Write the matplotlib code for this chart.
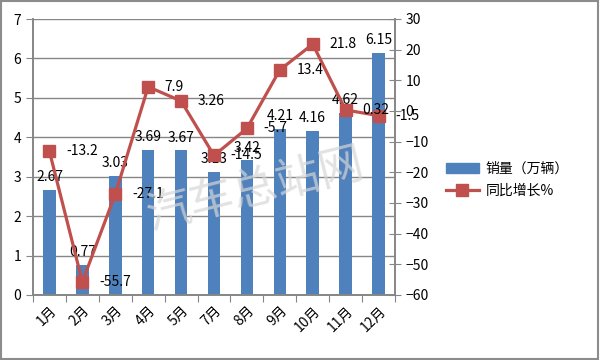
import matplotlib
matplotlib.use("Agg")
import matplotlib.pyplot as plt
from matplotlib.lines import Line2D
from matplotlib.patches import Patch, Rectangle

plt.rcParams['font.family'] = ['Noto Sans CJK SC', 'DejaVu Sans']

months = ['1月', '2月', '3月', '4月', '5月', '7月', '8月', '9月', '10月', '11月', '12月']
sales = [2.67, 0.77, 3.03, 3.69, 3.67, 3.13, 3.42, 4.21, 4.16, 4.62, 6.15]
growth = [-13.2, -55.7, -27.1, 7.9, 3.26, -14.5, -5.7, 13.4, 21.8, 0.32, -1.5]

bar_color = '#4F81BD'
line_color = '#C0504D'
axis_color = '#868686'

fig = plt.figure(figsize=(6, 3.6), dpi=100)
ax = fig.add_axes([33/600, 1-295/360, (395-33)/600, (295-19)/360])
ax2 = ax.twinx()

x = list(range(len(months)))
ax.bar(x, sales, width=0.38, color=bar_color, zorder=2)
ax.set_xlim(-0.5, len(months)-0.5)
ax.set_ylim(0, 7)
ax.set_yticks(range(0, 8))
ax.yaxis.grid(True, color=axis_color, linewidth=1, zorder=0)
ax.set_axisbelow(True)
ax.set_xticks([i - 0.5 for i in range(len(months)+1)], minor=False)
ax.set_xticklabels([])
ax.set_xticks(x, minor=True)
ax.set_xticklabels(months, minor=True, rotation=45, ha='right', va='top',
                   rotation_mode='anchor', fontsize=10)
ax.tick_params(axis='x', which='major', length=5, color=axis_color, direction='out')
ax.tick_params(axis='x', which='minor', length=0, pad=6)
ax.tick_params(axis='y', length=5, color=axis_color, labelsize=10, direction='out')

for s in ['top']:
    ax.spines[s].set_visible(False)
    ax2.spines[s].set_visible(False)
for s in ['left', 'bottom', 'right']:
    ax.spines[s].set_color(axis_color)
    ax2.spines[s].set_color(axis_color)
    ax.spines[s].set_linewidth(1.2)
    ax2.spines[s].set_linewidth(1.2)

for xi, v in zip(x, sales):
    ax.annotate(f'{v:g}', (xi, v), xytext=(0, 4), textcoords='offset points',
                ha='center', va='bottom', fontsize=10, zorder=5)

ax2.plot(x, growth, color=line_color, linewidth=2.3, marker='s', markersize=9,
         markerfacecolor=line_color, markeredgecolor=line_color, zorder=4)
ax2.set_ylim(-60, 30)
ax2.set_yticks(range(-60, 31, 10))
ax2.tick_params(axis='y', length=8, direction='inout', color=axis_color, labelsize=10)

for xi, v in zip(x, growth):
    ax2.annotate(f'{v:g}', (xi, v), xytext=(12, 0), textcoords='offset points',
                 ha='left', va='center', fontsize=10, zorder=6)

ax.set_zorder(ax2.get_zorder() - 1)
ax.patch.set_visible(False)

# watermark
fig.text(255/600, 1-190/360, '汽车总站网', fontsize=32, color='#d6d6d6', rotation=14,
         ha='center', va='center', alpha=0.7, zorder=0, fontweight='light')

handles = [Patch(facecolor=bar_color, edgecolor=bar_color),
           Line2D([0], [0], color=line_color, linewidth=2.3, marker='s', markersize=9)]
fig.legend(handles, ['销量（万辆）', '同比增长%'], loc='center left',
           bbox_to_anchor=(433/600, 1-180/360), frameon=False, fontsize=10,
           handlelength=2.4, handleheight=0.7, labelspacing=0.6, handletextpad=0.5)

fig.patches.append(Rectangle((0.002, 0.003), 0.995, 0.993, transform=fig.transFigure,
                             fill=False, edgecolor='#8c8c8c', linewidth=1.5))

fig.savefig('out.png', dpi=100)
